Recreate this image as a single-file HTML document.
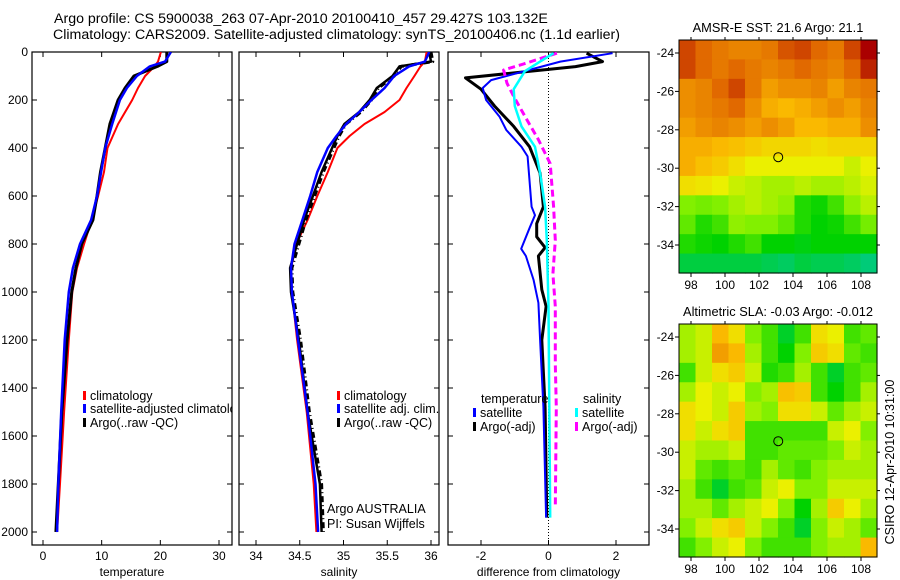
<!DOCTYPE html>
<html><head><meta charset="utf-8"><style>
html,body{margin:0;padding:0;background:#fff;}
svg{display:block;font-family:"Liberation Sans",sans-serif;}
</style></head><body>
<svg id="fig" width="900" height="580" viewBox="0 0 900 580">
<text x="54" y="23" font-size="14.2">Argo profile: CS 5900038_263 07-Apr-2010 20100410_457 29.427S 103.132E</text>
<text x="53" y="39" font-size="14.2">Climatology: CARS2009. Satellite-adjusted climatology: synTS_20100406.nc (1.1d earlier)</text>
<text x="778" y="32" font-size="12.8" text-anchor="middle">AMSR-E SST: 21.6 Argo: 21.1</text>
<text x="778" y="316" font-size="12.8" text-anchor="middle">Altimetric SLA: -0.03 Argo: -0.012</text>
<text x="0" y="0" font-size="12.5" text-anchor="middle" transform="translate(894,462) rotate(-90)">CSIRO 12-Apr-2010 10:31:00</text>
<g id="g"></g>
</svg>
<script>
// ---- temperature panel data (depth m, deg C)
const tDepth = [0,40,60,100,150,200,300,400,500,600,700,800,900,1000,1200,1500,1800,2000];
const tClim  = [20.1,19.6,19.0,17.4,16.2,15.2,12.8,11.0,10.4,9.4,8.3,7.0,5.8,5.0,4.4,3.6,2.9,2.4];
const tSat   = [21.8,20.8,18.2,16.0,14.3,13.1,11.8,10.6,9.9,9.2,8.2,6.3,5.1,4.4,3.7,3.1,2.6,2.4];
const tArgo  = [21.1,21.1,19.5,15.5,14.0,12.8,11.4,10.6,9.8,9.2,8.5,6.6,5.6,4.9,4.1,3.2,2.6,2.2];
// ---- salinity panel data
const sDepth = [0,40,60,100,150,200,250,300,350,400,500,600,700,800,900,1000,1200,1500,1800,2000];
const sClim  = [35.95,35.93,35.88,35.81,35.72,35.64,35.47,35.24,35.07,34.93,34.82,34.70,34.59,34.46,34.40,34.41,34.47,34.58,34.66,34.69];
const sSat   = [35.98,35.93,35.75,35.58,35.47,35.32,35.18,35.03,34.92,34.82,34.70,34.62,34.53,34.44,34.40,34.41,34.48,34.59,34.68,34.71];
const sArgo  = [35.98,36.00,35.64,35.56,35.38,35.30,35.18,35.01,34.93,34.87,34.75,34.65,34.55,34.47,34.39,34.40,34.49,34.59,34.73,34.75];
// ---- difference panel data
const dDepthTS = [5,40,117,150,200,270,325,395,435,645,680,730,820,850,950,1045,1200,1480,1940];
const dTSat    = [1.9,0.35,-1.7,-1.95,-1.85,-1.45,-1.25,-0.8,-0.62,-0.5,-0.4,-0.55,-0.81,-0.67,-0.44,-0.3,-0.25,-0.15,-0.07];
const dDepthTA = [5,40,61,108,155,225,310,395,505,645,715,770,815,850,990,1060,1200,1480,1940];
const dTArgo   = [1.13,1.6,0.8,-2.46,-2.0,-1.6,-1.03,-0.56,-0.25,-0.15,-0.35,-0.35,-0.1,-0.3,-0.2,-0.07,-0.2,-0.1,-0.05];
const dDepthSS = [5,40,80,155,225,310,395,505,645,785,1060,1940];
const dSSat    = [0.15,-0.25,-0.7,-1.03,-1.0,-0.8,-0.4,-0.25,-0.1,-0.05,0,0.05];
const dDepthSA = [5,50,75,130,185,270,365,465,645,785,925,1060,1300,1480,1900];
const dSArgo   = [0.25,-0.74,-1.33,-1.23,-1.03,-0.69,-0.3,0.05,0.15,0.2,0.13,0.2,0.2,0.23,0.2];
// ---- maps (normalized colour index 0..1, 12x12, top row = north)
const sstGrid = [
[.9,.85,.82,.8,.8,.82,.88,.9,.85,.82,.9,1],
[.9,.85,.82,.85,.82,.8,.82,.85,.82,.8,.85,.95],
[.78,.8,.85,.9,.82,.75,.78,.78,.8,.75,.8,.82],
[.78,.8,.82,.85,.78,.72,.7,.72,.75,.78,.75,.8],
[.75,.78,.8,.78,.75,.78,.75,.7,.7,.72,.72,.78],
[.72,.72,.7,.68,.65,.62,.62,.62,.6,.62,.62,.62],
[.72,.68,.65,.6,.55,.55,.55,.55,.55,.55,.5,.55],
[.6,.58,.55,.5,.48,.45,.45,.48,.45,.45,.48,.52],
[.4,.38,.4,.45,.48,.45,.42,.25,.22,.3,.42,.48],
[.35,.25,.3,.42,.4,.4,.35,.25,.2,.22,.3,.38],
[.25,.22,.2,.25,.3,.2,.2,.18,.2,.2,.2,.2],
[.12,.12,.12,.12,.12,.1,.08,.12,.1,.1,.08,.05]];
const slaGrid = [
[.45,.5,.7,.6,.4,.3,.15,.3,.6,.55,.3,.35],
[.45,.5,.75,.7,.45,.3,.2,.4,.65,.6,.35,.3],
[.3,.5,.6,.65,.5,.25,.3,.45,.3,.15,.3,.35],
[.45,.55,.5,.55,.4,.45,.68,.65,.3,.2,.3,.45],
[.6,.55,.5,.65,.45,.4,.6,.6,.5,.35,.45,.5],
[.6,.5,.6,.65,.3,.3,.3,.3,.3,.5,.55,.4],
[.5,.45,.45,.5,.3,.3,.35,.35,.35,.4,.5,.45],
[.5,.35,.3,.35,.3,.45,.35,.3,.4,.45,.45,.45],
[.45,.3,.15,.3,.35,.5,.55,.4,.4,.5,.5,.5],
[.45,.45,.35,.45,.5,.55,.4,.2,.45,.65,.55,.45],
[.4,.5,.6,.65,.5,.4,.3,.15,.4,.5,.45,.35],
[.3,.4,.5,.55,.4,.3,.3,.3,.4,.45,.45,.7]];
const argoLon = 103.132, argoLat = -29.427;
const depthTicks = [0,200,400,600,800,1000,1200,1400,1600,1800,2000];
const tTicks = [0,10,20,30];
const sTicks = [34,34.5,35,35.5,36];
const dTicks = [-2,0,2];
const lonTicks = [98,100,102,104,106,108];
const latTicks = [-24,-26,-28,-30,-32,-34];

const NS='http://www.w3.org/2000/svg';
const G=document.getElementById('g');
function mk(tag,attrs,parent){const e=document.createElementNS(NS,tag);for(const k in attrs)e.setAttribute(k,attrs[k]);(parent||G).appendChild(e);return e;}
function lin(d0,d1,r0,r1){return v=>r0+(v-d0)*(r1-r0)/(d1-d0);}
const PT=52,PB=545;
const yD=lin(0,2000,52,532);

function panel(name,x0,x1,xs,ticks,xlabel,fmt,showY){
  const f=mk('rect',{x:x0,y:PT,width:x1-x0,height:PB-PT,fill:'none',stroke:'#000','stroke-width':1.2});
  
  
  ticks.forEach(t=>{const x=xs(t);
    mk('line',{x1:x,x2:x,y1:PB,y2:PB-5,stroke:'#000'});mk('line',{x1:x,x2:x,y1:PT,y2:PT+5,stroke:'#000'});
    const tx=mk('text',{x:x,y:PB+15,'font-size':12,'text-anchor':'middle'});tx.textContent=fmt(t);
    
    });
  depthTicks.forEach(d=>{const y=yD(d);
    mk('line',{x1:x0,x2:x0+5,y1:y,y2:y,stroke:'#000'});mk('line',{x1:x1,x2:x1-5,y1:y,y2:y,stroke:'#000'});
    if(showY){const tx=mk('text',{x:x0-4,y:y+4,'font-size':12,'text-anchor':'end'});tx.textContent=d;
      
      }});
  const xl=mk('text',{x:(x0+x1)/2,y:PB+31,'font-size':12,'text-anchor':'middle'});xl.textContent=xlabel;
  
  
  const cp=mk('clipPath',{id:'clip-'+name});mk('rect',{x:x0,y:PT,width:x1-x0,height:PB-PT},cp);
}
function series(name,clip,xs,depths,vals,color,w,dash){
  const pts=depths.map((d,i)=>xs(vals[i]).toFixed(1)+','+yD(d).toFixed(1)).join(' ');
  const a={points:pts,fill:'none',stroke:color,'stroke-width':w,'clip-path':'url(#clip-'+clip+')','stroke-linejoin':'round'};
  if(dash)a['stroke-dasharray']=dash;
  const p=mk('polyline',a);
  
  
}
function legend(name,x,y,color,label,h){
  const m=mk('rect',{x:x,y:y-(h||9),width:3,height:h||9,fill:color});
  
  
  const t=mk('text',{x:x+7,y:y,'font-size':12.5});t.textContent=label;
  
  
}

// Temperature panel
const xT=lin(0,30,43,219);
panel('temperature-panel',32,232,xT,tTicks,'temperature',t=>t,true);
series('temp-climatology','temperature-panel',xT,tDepth,tClim,'#f00',2);
series('temp-argo','temperature-panel',xT,tDepth,tArgo,'#000',3);
series('temp-satellite','temperature-panel',xT,tDepth,tSat,'#00f',2.5);
const lg1=mk('g',{'clip-path':'url(#clip-temperature-panel)'});
[['legend-climatology','#f00','climatology',400],['legend-satellite-adjusted','#00f','satellite-adjusted climatology',413],['legend-argo','#000','Argo(..raw -QC)',427]].forEach(l=>{
  const m=mk('rect',{x:83,y:l[3]-9,width:3,height:9,fill:l[1]},lg1);
  
  
  const t=mk('text',{x:90,y:l[3],'font-size':12.5},lg1);t.textContent=l[2];
  
  });

// Salinity panel
const xS=lin(34,36,256,431);
panel('salinity-panel',239,439,xS,sTicks,'salinity',t=>t,false);
series('sal-climatology','salinity-panel',xS,sDepth,sClim,'#f00',2);
series('sal-argo-raw','salinity-panel',xS,sDepth,sArgo.map(v=>v+0.02),'#000',3,'6,3,1,3');
series('sal-argo','salinity-panel',xS,sDepth,sArgo,'#000',2.5);
series('sal-satellite','salinity-panel',xS,sDepth,sSat,'#00f',2.5);
legend('sal-legend-climatology',337,400,'#f00','climatology');
legend('sal-legend-satellite',337,413,'#00f','satellite adj. clim.');
legend('sal-legend-argo',337,427,'#000','Argo(..raw -QC)');
[['argo-australia',513,'Argo AUSTRALIA'],['pi-name',528,'PI: Susan Wijffels']].forEach(l=>{
  const t=mk('text',{x:327,y:l[1],'font-size':12.5});t.textContent=l[2];
  
  });

// Difference panel
const xDf=lin(-2,0,481,548.5);
panel('difference-panel',448,649,xDf,dTicks,'difference from climatology',t=>t,false);
const zl=mk('line',{x1:xDf(0),x2:xDf(0),y1:PT,y2:PB,stroke:'#000','stroke-dasharray':'1,2'});


series('diff-temp-argo','difference-panel',xDf,dDepthTA,dTArgo,'#000',3);
series('diff-temp-satellite','difference-panel',xDf,dDepthTS,dTSat,'#00f',2);
series('diff-sal-argo','difference-panel',xDf,dDepthSA,dSArgo,'#f0f',3,'7,4');
series('diff-sal-satellite','difference-panel',xDf,dDepthSS,dSSat,'#0ff',2.5);
const tt=mk('text',{x:481,y:403,'font-size':12.5});tt.textContent='temperature';


const st=mk('text',{x:583,y:403,'font-size':12.5});st.textContent='salinity';


legend('diff-legend-temp-satellite',473,417,'#00f','satellite');
legend('diff-legend-temp-argo',473,431,'#000','Argo(-adj)');
legend('diff-legend-sal-satellite',575,417,'#0ff','satellite');
legend('diff-legend-sal-argo',575,431,'#f0f','Argo(-adj)');

// Maps
const stops=[[0,[0,200,160]],[.2,[0,210,0]],[.4,[130,240,0]],[.55,[235,240,0]],[.7,[250,185,0]],[.85,[225,105,0]],[1,[170,0,0]]];
function cmap(v){for(let i=1;i<stops.length;i++){if(v<=stops[i][0]){const a=stops[i-1],b=stops[i],f=(v-a[0])/(b[0]-a[0]);
  return 'rgb('+a[1].map((c,k)=>Math.round(c+(b[1][k]-c)*f)).join(',')+')';}}return 'rgb(170,0,0)';}
function map(name,grid,top){
  const x0=679,x1=877,y0=top,y1=top+233;
  const xL=lin(98,108,691,861), yL=lin(-24,-34,y0+13,y0+205);
  const rows=grid.length,cols=grid[0].length,cw=(x1-x0)/cols,ch=(y1-y0)/rows;
  grid.forEach((row,r)=>row.forEach((v,c)=>{
    const e=mk('rect',{x:(x0+c*cw).toFixed(2),y:(y0+r*ch).toFixed(2),width:(cw+0.6).toFixed(2),height:(ch+0.6).toFixed(2),fill:cmap(v)});
    
    }));
  const f=mk('rect',{x:x0,y:y0,width:x1-x0,height:y1-y0,fill:'none',stroke:'#000'});
  
  
  lonTicks.forEach(l=>{const x=xL(l);mk('line',{x1:x,x2:x,y1:y1,y2:y1+4,stroke:'#000'});mk('line',{x1:x,x2:x,y1:y0,y2:y0-3,stroke:'#000'});
    const t=mk('text',{x:x,y:y1+16,'font-size':12,'text-anchor':'middle'});t.textContent=l;
    
    });
  latTicks.forEach(l=>{const y=yL(l);mk('line',{x1:x0,x2:x0-4,y1:y,y2:y,stroke:'#000'});mk('line',{x1:x1,x2:x1+3,y1:y,y2:y,stroke:'#000'});
    const t=mk('text',{x:x0-5,y:y+4,'font-size':12,'text-anchor':'end'});t.textContent=l;
    
    });
  const c=mk('circle',{cx:xL(argoLon),cy:yL(argoLat),r:4.5,fill:'none',stroke:'#000','stroke-width':1});
  
  
}
map('sst-map',sstGrid,40);
map('sla-map',slaGrid,324);
</script>
</body></html>
